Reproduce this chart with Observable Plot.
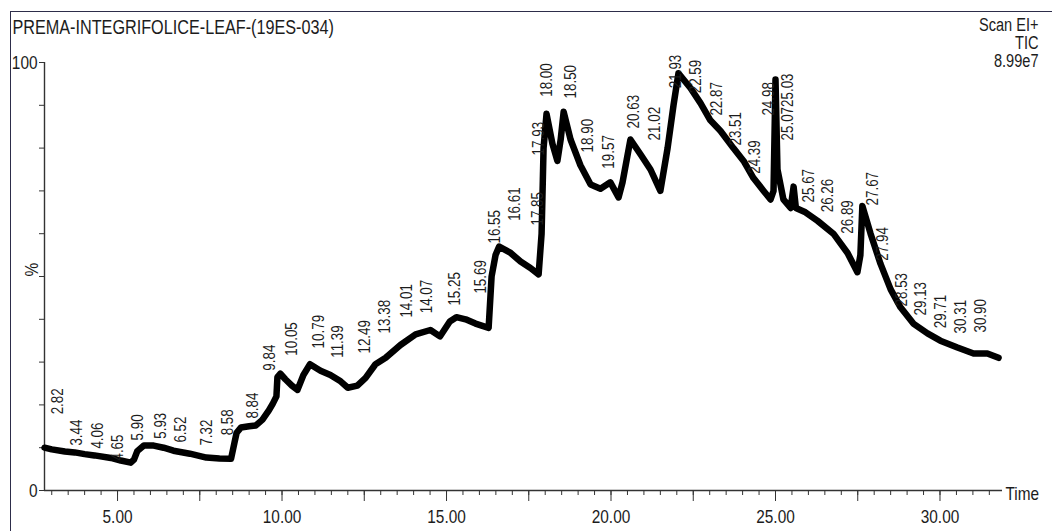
<!DOCTYPE html>
<html><head><meta charset="utf-8">
<script src="https://cdn.jsdelivr.net/npm/d3@7"></script>
<script src="https://cdn.jsdelivr.net/npm/@observablehq/plot@0.6"></script>
<style>
html,body{margin:0;padding:0;background:#fff;overflow:hidden;}
#wrap{position:absolute;left:10px;top:11px;border-left:1px solid #2d2d4a;border-top:1px solid #2d2d4a;}
#wrap svg{display:block;overflow:visible;}
</style></head><body><div id="wrap"></div>
<script>
// ---- data ----
const chartTitle = "PREMA-INTEGRIFOLICE-LEAF-(19ES-034)";
const scanInfo = ["Scan EI+", "TIC", "8.99e7"];
const xAxisName = "Time";
const yAxisName = "%";
const xDomain = [2.78, 31.9];
const yDomain = [0, 100];
const xMinorTicks = d3.range(3, 32, 0.5);
const xMajorTicks = [5, 7.5, 10, 12.5, 15, 17.5, 20, 22.5, 25, 27.5, 30];
const xTickLabels = [5, 10, 15, 20, 25, 30];
const yTicks = [0, 10, 20, 30, 40, 50, 60, 70, 80, 90, 100];
const yTickLabels = [0, 100];

const traceTime = [2.78,3.0,3.4,3.7,4.0,4.3,4.8,5.1,5.4,5.5,5.6,5.8,6.1,6.4,6.7,7.2,7.7,8.1,8.45,8.55,8.62,8.75,9.0,9.2,9.4,9.6,9.72,9.83,9.86,9.95,10.1,10.3,10.47,10.65,10.85,11.17,11.47,11.78,12.0,12.29,12.54,12.84,13.15,13.6,14.06,14.51,14.8,15.1,15.3,15.58,15.88,16.28,16.37,16.49,16.6,16.95,17.25,17.55,17.8,17.89,17.95,18.04,18.22,18.37,18.47,18.56,18.77,19.07,19.38,19.68,19.98,20.23,20.35,20.59,20.9,21.2,21.5,21.72,21.9,22.05,22.42,22.72,23.02,23.33,23.72,24.03,24.33,24.64,24.85,24.94,25.0,25.06,25.24,25.46,25.55,25.62,25.91,26.28,26.76,27.19,27.49,27.58,27.64,27.89,28.19,28.5,28.8,29.19,29.62,30.01,30.53,31.02,31.44,31.78];
const traceSignal = [10,9.6,9.1,8.9,8.5,8.2,7.6,7.0,6.5,7.2,9.2,10.5,10.5,10.0,9.3,8.6,7.7,7.5,7.4,11,13.5,14.7,15.0,15.2,16.5,18.7,20.3,22,26.5,27.3,26,24.5,23.5,27,29.5,28,27,25.5,24,24.5,26.3,29.5,31,34,36.5,37.5,36,39.5,40.5,40,39,38,50,55,57,55.5,53.5,52,50.5,60,80,88,81,77,82,88.5,82,76,71.5,70.5,72,68.5,72,82,78.5,75,70,80,90,97.5,94,90.5,86.5,84,80,77,73,70,68,70,96,75,68,66,71,66,65,63,60,55.5,51,55,66.5,60,53,47,42.8,39,36.7,35,33.4,32,32,31];

const peakText = ["2.82","3.44","4.06","4.65","5.90","5.93","6.52","7.32","8.58","8.84","9.84","10.05","10.79","11.39","12.49","13.38","14.01","14.07","15.25","15.69","16.55","16.61","17.85","17.93","18.00","18.50","18.90","19.57","20.63","21.02","21.93","22.59","22.87","23.51","24.39","24.98","25.0725.03","25.67","26.26","26.89","27.67","27.94","28.53","29.13","29.71","30.31","30.90"];
const peakLabelTime = [3.18,3.77,4.39,5.0,5.62,6.31,6.91,7.70,8.36,9.10,9.62,10.30,11.11,11.70,12.50,13.11,13.78,14.39,15.24,16.04,16.45,17.06,17.76,17.79,18.06,18.79,19.28,19.92,20.70,21.34,21.98,22.59,23.20,23.80,24.38,24.78,25.38,26.02,26.60,27.21,27.96,28.27,28.85,29.42,30.03,30.64,31.25];
const peakLabelSignal = [17.8,10.5,9.8,7.0,11.7,12.1,11.2,10.5,12.9,16.8,28,31.5,33.2,31,32,36.7,40.4,41.4,43.2,46,57.7,63,61.9,78.3,92,91.6,79,75.2,84.6,81.8,94,92.8,87.6,80.6,74,87.6,81.8,67.3,65,60,66.6,53.7,43,40.9,37.9,36.7,36.9];

// ---- tables ----
const trace = traceTime.map((t, i) => ({t, v: traceSignal[i]}));
const peaks = peakText.map((s, i) => ({s, t: peakLabelTime[i], v: peakLabelSignal[i]}));

const font = "'Liberation Sans',Arial,sans-serif";
const ink = "#1c1c1c";

const chart = Plot.plot({
  width: 1041,
  height: 519,
  marginLeft: 33,
  marginRight: 50,
  marginTop: 50,
  marginBottom: 41,
  x: {domain: xDomain},
  y: {domain: yDomain},
  style: {fontFamily: font, fontSize: "19px", color: ink, background: "white"},
  marks: [
    Plot.ruleY([0], {stroke: "#333", strokeWidth: 1.4}),
    Plot.ruleX([xDomain[0]], {stroke: "#333", strokeWidth: 1.4}),
    Plot.axisX({ticks: xMinorTicks, tickSize: 5, tickFormat: () => "", label: null, stroke: "#333"}),
    Plot.axisX({ticks: xMajorTicks, tickSize: 11, tickPadding: 8, label: null, stroke: "#333",
      tickFormat: d => xTickLabels.includes(d) ? d3.format(".2f")(d) : "", fontSize: 19}),
    Plot.axisY({ticks: yTicks, tickSize: 5, tickPadding: 2, label: null, stroke: "#333",
      tickFormat: d => yTickLabels.includes(d) ? String(d) : "", fontSize: 19}),
    Plot.text([yAxisName], {frameAnchor: "left", dx: -13, rotate: -90, fontSize: 19, fill: ink}),
    Plot.text([xAxisName], {frameAnchor: "bottom-right", dx: 3, dy: 3, textAnchor: "start", lineAnchor: "middle", fontSize: 19, fill: ink}),
    Plot.line(trace, {x: "t", y: "v", stroke: "#000", strokeWidth: 6.5, strokeLinejoin: "round"}),
    Plot.text(peaks, {x: "t", y: "v", text: "s", rotate: -90, textAnchor: "start", lineAnchor: "middle",
      fontSize: 16.5, fill: ink, ariaLabel: "peak-labels"}),
    Plot.text([chartTitle], {frameAnchor: "top-left", dx: -32, dy: -35, textAnchor: "start", lineAnchor: "middle", fontSize: 20, fill: ink}),
    Plot.text([scanInfo[0]], {frameAnchor: "top-right", dx: 36, dy: -37, textAnchor: "end", lineAnchor: "middle", fontSize: 18, fill: ink}),
    Plot.text([scanInfo[1]], {frameAnchor: "top-right", dx: 36, dy: -19, textAnchor: "end", lineAnchor: "middle", fontSize: 18, fill: ink}),
    Plot.text([scanInfo[2]], {frameAnchor: "top-right", dx: 36, dy: -1, textAnchor: "end", lineAnchor: "middle", fontSize: 18, fill: ink})
  ]
});
document.getElementById("wrap").appendChild(chart);

// The reference's lettering is tall and narrow: squeeze horizontal text, stretch rotated peak labels.
function fit(nodes, factor) {
  nodes.forEach(t => {
    const w = t.getComputedTextLength();
    if (w > 0) {
      t.setAttribute("textLength", (w * factor).toFixed(1));
      t.setAttribute("lengthAdjust", "spacingAndGlyphs");
    }
  });
}
const peakNodes = Array.from(chart.querySelectorAll('g[aria-label="peak-labels"] text'));
const otherNodes = Array.from(chart.querySelectorAll("text")).filter(t => !peakNodes.includes(t));
fit(peakNodes, 19 / 16.5);
fit(otherNodes, 0.81);
</script></body></html>
